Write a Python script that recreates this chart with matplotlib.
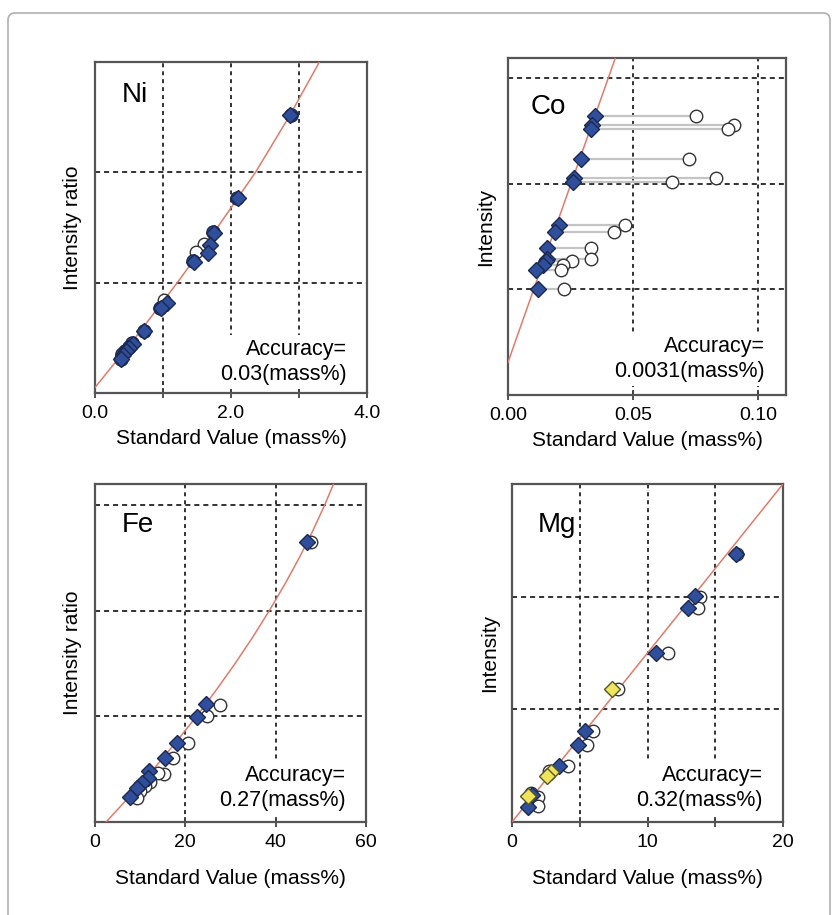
import matplotlib
matplotlib.use("Agg")
import matplotlib.pyplot as plt
from matplotlib.patches import FancyBboxPatch

plt.rcParams['font.family'] = ['Liberation Sans', 'DejaVu Sans']

# ---- data ----
ni_dia_x = [2.87, 2.10, 1.75, 1.69, 1.66, 1.46, 1.06, 0.97, 0.72, 0.56, 0.50, 0.45, 0.41, 0.38]
ni_dia_y = [2.52, 1.77, 1.45, 1.34, 1.27, 1.19, 0.82, 0.77, 0.56, 0.44, 0.41, 0.38, 0.34, 0.31]
# measured points hidden under the diamonds (drawn blue) and the visible open ones
ni_cir_x = [2.88, 2.09, 1.74, 1.44, 0.96, 0.72, 0.55, 0.50, 0.44, 0.40, 0.38]
ni_cir_y = [2.52, 1.77, 1.46, 1.20, 0.77, 0.56, 0.45, 0.42, 0.38, 0.35, 0.31]
ni_open_x = [1.61, 1.48, 1.02]
ni_open_y = [1.35, 1.28, 0.84]
ni_fit_x = [0.0, 0.59, 1.21, 1.80, 2.36, 2.85, 3.30, 3.47]
ni_fit_y = [0.05, 0.50, 1.00, 1.50, 2.00, 2.50, 3.00, 3.20]

co_y = [2.64, 2.56, 2.52, 2.23, 2.05, 2.02, 1.61, 1.54, 1.39, 1.29, 1.27, 1.23, 1.18, 1.00]
co_dia_x = [0.0348, 0.0336, 0.0333, 0.0290, 0.0263, 0.0259, 0.0204, 0.0187, 0.0154, 0.0155,
            0.0150, 0.0140, 0.0112, 0.0120]
co_cir_x = [0.0749, 0.0902, 0.0878, 0.0724, 0.0831, 0.0655, 0.0468, 0.0425, 0.0330, 0.0330,
            0.0254, 0.0221, 0.0210, 0.0223]
co_fit_x = [0.0, 0.0445]
co_fit_y = [0.31, 3.30]

fe_dia_x = [47.0, 24.6, 22.6, 18.1, 15.4, 12.0, 11.8, 10.3, 9.2, 7.7]
fe_dia_y = [2.65, 1.12, 0.99, 0.75, 0.61, 0.48, 0.42, 0.37, 0.32, 0.24]
fe_cir_x = [47.8, 27.7, 24.8, 20.6, 17.3, 15.2, 14.0, 12.1, 11.0, 9.9, 9.2]
fe_cir_y = [2.65, 1.11, 1.00, 0.75, 0.61, 0.45, 0.46, 0.38, 0.34, 0.29, 0.23]
fe_fit_x = [2.46, 7.82, 12.95, 17.82, 22.46, 26.85, 31.01, 34.92, 38.58, 42.01, 45.20,
            48.14, 50.84, 53.30, 53.77]
fe_fit_y = [0.00, 0.25, 0.50, 0.75, 1.00, 1.25, 1.50, 1.75, 2.00, 2.25, 2.50,
            2.75, 3.00, 3.25, 3.30]

mg_blue_x = [16.5, 13.5, 13.0, 10.6, 5.4, 4.85, 3.5, 1.5, 1.2]
mg_blue_y = [2.38, 2.01, 1.90, 1.50, 0.81, 0.68, 0.50, 0.24, 0.13]
mg_yel_x = [7.4, 2.9, 2.55, 1.2]
mg_yel_y = [1.18, 0.44, 0.41, 0.23]
mg_cir_x = [16.6, 13.9, 13.7, 11.5, 7.85, 6.0, 5.5, 4.15, 2.7, 1.9, 1.9, 1.4]
mg_cir_y = [2.38, 2.00, 1.90, 1.50, 1.18, 0.81, 0.68, 0.50, 0.45, 0.22, 0.14, 0.26]
mg_fit_x = [0.0, 20.0]
mg_fit_y = [0.0, 3.0]

W, H = 836, 915
BLUE = '#2f4f9c'
EDGE = '#1b2850'
RED = '#e07b6c'


def box(l, t, r, b):
    return [l / W, 1 - b / H, (r - l) / W, (b - t) / H]


def setup(ax, xlim, ylim, xticks, xlabels, ygrid, xgrid, name, name_pos, ylabel, acc,
          xpad, acc_y):
    ax.set_xlim(*xlim)
    ax.set_ylim(*ylim)
    ax.set_xticks(xticks)
    ax.set_xticklabels(xlabels, fontsize=14)
    ax.set_yticks([])
    ax.tick_params(axis='x', direction='inout', length=7, width=1.3, color='#444444', pad=5)
    for s in ax.spines.values():
        s.set_color('#555555')
        s.set_linewidth(1.6)
    for g in xgrid:
        ax.axvline(g, color='#222222', lw=1.3, ls=(0, (2.2, 2.2)), zorder=1)
    for g in ygrid:
        ax.axhline(g, color='#222222', lw=1.3, ls=(0, (2.8, 2.2)), zorder=1)
    ax.text(name_pos[0], name_pos[1], name, transform=ax.transAxes, fontsize=20,
            va='center', ha='left')
    ax.set_ylabel(ylabel, fontsize=15, labelpad=9)
    ax.set_xlabel('Standard Value (mass%)', fontsize=15, labelpad=xpad)
    ax.text(0.925, acc_y, 'Accuracy=\n' + acc, transform=ax.transAxes, fontsize=15.5,
            ha='right', va='bottom', multialignment='right', linespacing=1.22, zorder=2,
            bbox=dict(facecolor='white', edgecolor='none', pad=3))


fig = plt.figure(figsize=(W / 100, H / 100), dpi=100)
fig.patches.append(FancyBboxPatch((8 / W, -0.02), 822 / W, 1 - 13 / H + 0.02,
                                  boxstyle='round,pad=0,rounding_size=0.008',
                                  transform=fig.transFigure, facecolor='none',
                                  edgecolor='#b0b0b0', lw=1.2, zorder=-1))

ms_c = 9
ms_d = 8.5

# Ni
ax = fig.add_axes(box(95, 62, 367, 393))
setup(ax, (0, 4), (0, 3.0), [0, 1, 2, 3, 4], ['0.0', '', '2.0', '', '4.0'],
      [1, 2], [1, 2, 3], 'Ni', (0.10, 0.90), 'Intensity ratio', '0.03(mass%)', 5, 0.025)
ax.plot(ni_fit_x, ni_fit_y, color=RED, lw=1.1, zorder=3)
ax.plot(ni_open_x, ni_open_y, 'o', ms=ms_c, mfc='white', mec='#333333', mew=1, zorder=4)
ax.plot(ni_cir_x, ni_cir_y, 'o', ms=ms_c + 0.5, mfc=BLUE, mec=EDGE, mew=1, zorder=4)
ax.plot(ni_dia_x, ni_dia_y, 'D', ms=ms_d, mfc=BLUE, mec=EDGE, mew=1, zorder=5)

# Co
ax = fig.add_axes(box(508, 58, 786, 395))
setup(ax, (0, 0.111), (0, 3.19), [0, 0.05, 0.10], ['0.00', '0.05', '0.10'],
      [1, 2, 3], [0.05, 0.10], 'Co', (0.08, 0.855), 'Intensity', '0.0031(mass%)', 5, 0.04)
ax.plot(co_fit_x, co_fit_y, color=RED, lw=1.1, zorder=3)
for xd, xc, yy in zip(co_dia_x, co_cir_x, co_y):
    ax.plot([xd, xc], [yy, yy], color='#c4c4c4', lw=1.6, zorder=2.5)
ax.plot(co_cir_x, co_y, 'o', ms=ms_c, mfc='white', mec='#333333', mew=1, zorder=4)
ax.plot(co_dia_x, co_y, 'D', ms=ms_d, mfc=BLUE, mec=EDGE, mew=1, zorder=5)

# Fe
ax = fig.add_axes(box(95, 484, 366, 822))
setup(ax, (0, 60), (0, 3.2), [0, 20, 40, 60], ['0', '20', '40', '60'],
      [1, 2, 3], [20, 40], 'Fe', (0.10, 0.88), 'Intensity ratio', '0.27(mass%)', 13, 0.033)
ax.plot(fe_fit_x, fe_fit_y, color=RED, lw=1.1, zorder=3)
ax.plot(fe_cir_x, fe_cir_y, 'o', ms=ms_c, mfc='white', mec='#333333', mew=1, zorder=4)
ax.plot(fe_dia_x, fe_dia_y, 'D', ms=ms_d, mfc=BLUE, mec=EDGE, mew=1, zorder=5)

# Mg
ax = fig.add_axes(box(512, 484, 783, 822))
setup(ax, (0, 20), (0, 3.0), [0, 5, 10, 15, 20], ['0', '', '10', '', '20'],
      [1, 2], [5, 10, 15], 'Mg', (0.096, 0.88), 'Intensity', '0.32(mass%)', 13, 0.033)
ax.plot(mg_fit_x, mg_fit_y, color=RED, lw=1.1, zorder=3)
ax.plot(mg_cir_x, mg_cir_y, 'o', ms=ms_c, mfc='white', mec='#333333', mew=1, zorder=4)
ax.plot(mg_blue_x, mg_blue_y, 'D', ms=ms_d, mfc=BLUE, mec=EDGE, mew=1, zorder=5)
ax.plot(mg_yel_x, mg_yel_y, 'D', ms=ms_d, mfc='#f0e45a', mec='#55552a', mew=1, zorder=5)

fig.savefig('out.png', dpi=100)
